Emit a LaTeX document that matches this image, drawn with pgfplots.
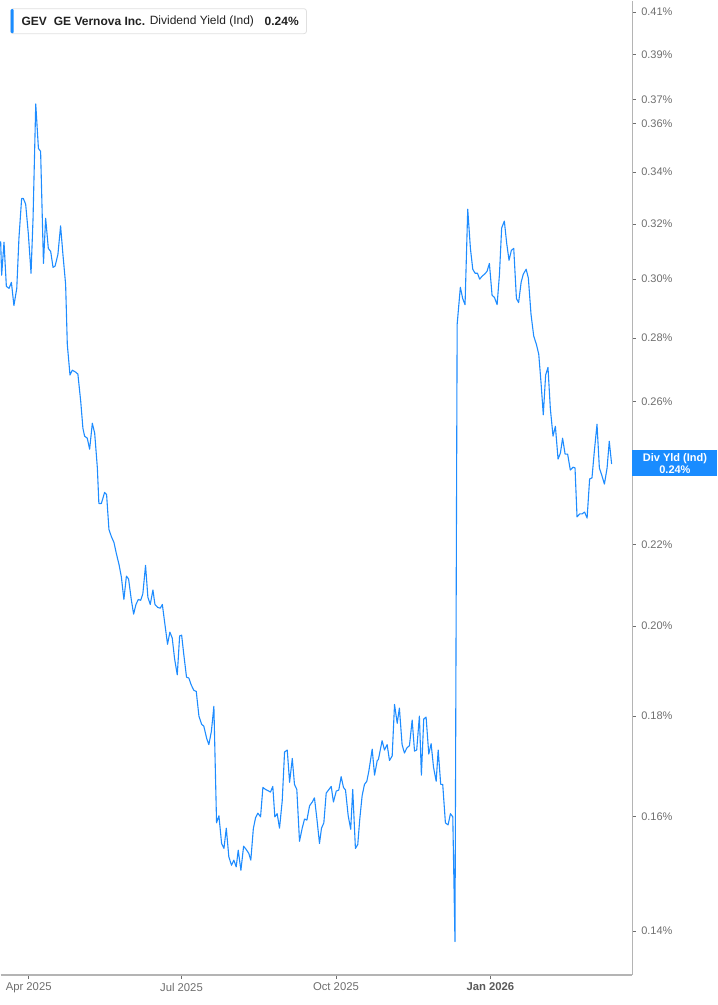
\documentclass[border=0pt]{standalone}
\usepackage{pgfplots}
\pgfplotsset{compat=1.18}
\usepackage{fontspec}
\setmainfont{Liberation Sans}
\definecolor{lineblue}{RGB}{30,140,255}
\definecolor{boxblue}{RGB}{26,140,255}
\definecolor{axgray}{RGB}{180,180,180}
\definecolor{lblgray}{RGB}{110,110,110}
\definecolor{txtdark}{RGB}{34,34,34}
\begin{document}
\begin{tikzpicture}
\begin{axis}[
  name=ax, at={(0pt,0pt)}, anchor=south west,
  width=632pt, height=975pt, scale only axis,
  ymode=log,
  xmin=-16.67, xmax=359.5,
  ymin=0.13298, ymax=0.41546,
  axis x line*=bottom, axis y line*=right,
  axis line style={draw=axgray, line width=1.4pt},
  xtick={0,91,183,275},
  xticklabels={Apr 2025, Jul 2025, Oct 2025, {\color{black!65}\bfseries Jan 2026}},
  ytick={0.14,0.16,0.18,0.20,0.22,0.24,0.26,0.28,0.30,0.32,0.34,0.36,0.37,0.39,0.41},
  yticklabels={0.14\%,0.16\%,0.18\%,0.20\%,0.22\%,0.24\%,0.26\%,0.28\%,0.30\%,0.32\%,0.34\%,0.36\%,0.37\%,0.39\%,0.41\%},
  minor tick num=0, log ticks with fixed point,
  tick align=outside, major tick length=3.5pt,
  x tick style={draw=lblgray, line width=0.8pt},
  y tick style={draw=lblgray, line width=0.8pt},
  xticklabel style={font=\fontsize{11.3}{13}\selectfont, text=lblgray, anchor=north, yshift=-1pt},
  yticklabel style={font=\fontsize{11}{13}\selectfont, text=lblgray, anchor=west, xshift=2pt},
  clip=false,
]
\addplot[color=lineblue, line width=1.1pt, line join=round] table[x=d, y=v] {
d v
-16.7 0.3136
-16.1 0.3014
-14.7 0.3133
-13.3 0.2975
-11.7 0.2968
-10.3 0.2989
-8.8 0.2909
-7.1 0.2968
-5.8 0.3148
-4.2 0.3297
-3.2 0.3297
-1.8 0.3275
-0.2 0.3163
1.4 0.3021
2.6 0.3222
4.2 0.3683
5.8 0.3496
7.1 0.3484
8.8 0.3056
10.1 0.3222
11.7 0.3110
13.1 0.3099
14.5 0.3042
15.7 0.3046
17.4 0.3088
19.0 0.3193
20.4 0.3088
22.0 0.2982
23.0 0.2780
24.6 0.2682
26.0 0.2697
28.0 0.2691
29.3 0.2685
31.0 0.2600
32.3 0.2520
33.3 0.2497
34.9 0.2491
36.3 0.2459
37.9 0.2535
39.3 0.2506
40.9 0.2406
41.8 0.2308
43.3 0.2308
45.2 0.2338
46.4 0.2332
47.8 0.2239
49.2 0.2221
50.8 0.2205
52.2 0.2177
53.8 0.2149
55.2 0.2118
56.7 0.2063
58.2 0.2120
59.5 0.2113
61.1 0.2063
62.5 0.2028
63.9 0.2051
65.3 0.2063
66.7 0.2061
68.0 0.2077
69.6 0.2147
71.0 0.2068
72.4 0.2051
74.0 0.2086
75.2 0.2051
76.8 0.2044
78.4 0.2042
79.6 0.2051
81.1 0.2005
82.7 0.1958
84.1 0.1986
85.5 0.1972
86.9 0.1925
88.5 0.1889
89.9 0.1977
91.1 0.1979
92.4 0.1934
94.0 0.1884
95.4 0.1882
96.8 0.1867
98.4 0.1855
99.8 0.1853
101.4 0.1800
103.0 0.1783
104.3 0.1779
106.0 0.1754
107.3 0.1741
108.8 0.1768
110.3 0.1821
111.9 0.1589
113.3 0.1602
114.9 0.1551
116.3 0.1542
117.7 0.1579
119.2 0.1527
120.8 0.1512
122.2 0.1521
123.6 0.1509
124.8 0.1539
126.4 0.1503
128.0 0.1546
129.6 0.1540
131.1 0.1533
132.3 0.1521
133.8 0.1578
135.1 0.1598
136.5 0.1607
138.1 0.1600
139.5 0.1656
141.1 0.1652
143.0 0.1649
144.0 0.1647
145.4 0.1658
146.6 0.1600
148.0 0.1606
149.4 0.1579
151.0 0.1630
152.4 0.1726
154.0 0.1730
155.4 0.1666
157.0 0.1713
158.3 0.1662
159.7 0.1652
161.3 0.1555
162.9 0.1579
164.3 0.1596
165.7 0.1594
167.3 0.1621
168.9 0.1628
170.2 0.1636
171.6 0.1598
173.2 0.1551
174.4 0.1579
175.8 0.1589
177.2 0.1645
178.8 0.1652
180.2 0.1658
181.5 0.1628
183.2 0.1649
184.7 0.1651
186.1 0.1677
187.5 0.1656
188.7 0.1651
190.3 0.1602
191.8 0.1577
193.0 0.1652
194.6 0.1542
196.0 0.1549
197.2 0.1596
198.6 0.1640
200.0 0.1662
201.4 0.1668
202.6 0.1688
204.6 0.1732
206.0 0.1680
207.6 0.1709
208.3 0.1711
210.5 0.1749
211.9 0.1730
213.5 0.1741
214.9 0.1709
216.5 0.1718
217.9 0.1825
219.5 0.1785
220.8 0.1817
222.4 0.1741
223.8 0.1724
225.2 0.1734
226.8 0.1739
228.4 0.1792
229.8 0.1728
231.1 0.1730
232.7 0.1800
233.9 0.1680
235.3 0.1794
236.7 0.1798
238.3 0.1722
239.7 0.1743
241.1 0.1696
242.7 0.1668
243.9 0.1730
245.4 0.1662
246.6 0.1662
248.2 0.1589
249.8 0.1585
251.2 0.1606
252.6 0.1600
253.9 0.1383
255.2 0.2846
257.1 0.2972
258.5 0.2933
259.9 0.2912
261.5 0.3256
263.1 0.3110
264.5 0.3035
265.9 0.3021
267.3 0.3021
268.6 0.3000
270.1 0.3011
271.6 0.3018
273.0 0.3028
274.4 0.3056
276.0 0.2944
277.4 0.2937
279.0 0.2912
280.4 0.3018
281.7 0.3185
283.3 0.3211
284.7 0.3129
286.1 0.3067
287.5 0.3103
288.9 0.3110
290.5 0.2933
291.8 0.2919
293.3 0.2989
294.6 0.3018
296.3 0.3035
297.6 0.3004
299.2 0.2879
300.8 0.2807
302.4 0.2780
303.8 0.2748
305.2 0.2655
306.5 0.2560
307.9 0.2682
309.3 0.2706
310.7 0.2579
312.3 0.2497
313.7 0.2526
315.3 0.2431
316.7 0.2448
318.0 0.2491
319.5 0.2445
321.0 0.2445
322.6 0.2400
324.2 0.2408
325.4 0.2406
326.6 0.2272
328.2 0.2280
329.6 0.2280
331.1 0.2285
332.6 0.2269
334.1 0.2375
335.5 0.2378
336.9 0.2453
338.5 0.2532
339.9 0.2406
341.5 0.2383
342.9 0.2361
344.5 0.2406
345.8 0.2482
347.2 0.2417
};
\end{axis}
% legend box
\draw[draw=black!12, fill=white, rounded corners=2.5pt, line width=0.8pt] (10pt,942pt) rectangle (306pt,967pt);
\fill[boxblue, rounded corners=1pt] (10pt,942.5pt) rectangle (13pt,966.5pt);
\begin{scope}[every node/.style={inner sep=0pt, anchor=west, text=txtdark, font=\fontsize{12}{14}\selectfont}]
\node at (20.7pt,954pt) {\bfseries GEV};
\node at (53pt,954pt) {\bfseries GE Vernova Inc.};
\node at (149pt,954pt) {Dividend Yield (Ind)};
\node at (264pt,954pt) {\bfseries 0.24\%};
\end{scope}
% last value box
\node[fill=boxblue, text=white, inner sep=0pt, minimum width=85pt, minimum height=26pt, anchor=west, align=center, font=\bfseries\fontsize{11}{12}\selectfont] at (632pt,512pt) {Div Yld (Ind)\\0.24\%};
\path[use as bounding box] (0pt,-30pt) rectangle (717pt,975pt);
\end{tikzpicture}
\end{document}
